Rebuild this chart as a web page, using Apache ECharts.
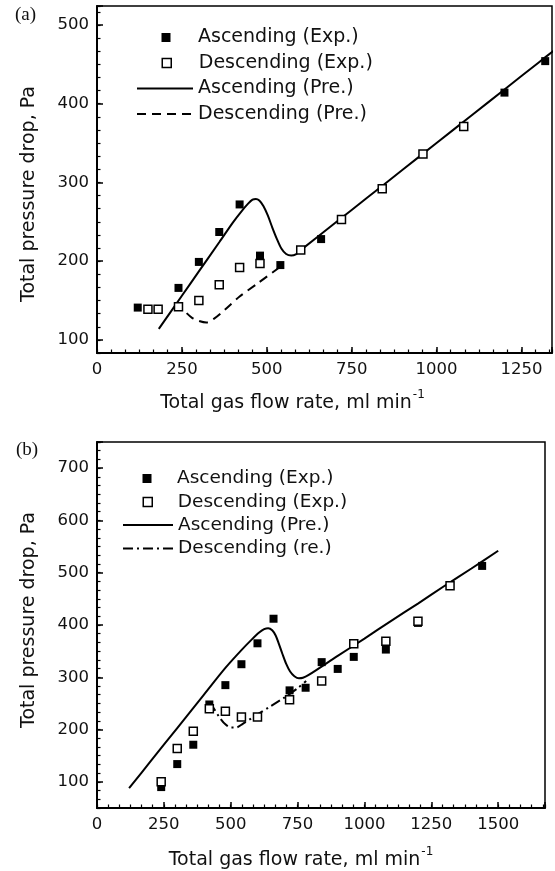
<!DOCTYPE html>
<html><head><meta charset="utf-8">
<script src="https://cdn.jsdelivr.net/npm/echarts@6/dist/echarts.min.js"></script>
<style>html,body{margin:0;padding:0;background:#fff}#c{width:555px;height:871px}</style>
</head><body><div id="c"></div>
<script>
// ---------- Panel (a) data ----------
const aAscExpX = [120, 240, 300, 360, 420, 480, 540, 660, 1200, 1320];
const aAscExpY = [141, 166, 199, 237, 272, 207, 195, 228, 414, 454];
const aDesExpX = [150, 180, 240, 300, 360, 420, 480, 600, 720, 840, 960, 1080];
const aDesExpY = [139, 139, 142, 150, 170, 192, 197, 214, 253, 292, 336, 371];
const aAscPreX = [182, 250, 300, 360, 400, 425, 445, 458, 468, 478, 490, 503, 516, 529, 543, 557, 572, 587, 600, 700, 800, 900, 1000, 1100, 1200, 1300, 1350];
const aAscPreY = [114, 156, 187, 224, 249, 263, 273, 278, 279, 277, 270, 258, 243, 229, 216, 209, 207, 209, 214, 248, 282, 316, 350, 384, 418, 452, 469];
const aDesPreX = [264, 280, 300, 322, 345, 376, 420, 474, 537];
const aDesPreY = [134, 128, 124, 122, 127, 138, 155, 172, 192];
const aXMajor = 250, aYMajor = 100;

// ---------- Panel (b) data ----------
const bAscExpX = [240, 300, 360, 420, 480, 540, 600, 660, 720, 780, 840, 900, 960, 1080, 1200, 1440];
const bAscExpY = [90, 134, 171, 248, 285, 325, 365, 412, 275, 280, 329, 316, 339, 353, 404, 513];
const bDesExpX = [240, 300, 360, 420, 480, 540, 600, 720, 840, 960, 1080, 1200, 1320];
const bDesExpY = [100, 164, 197, 240, 235, 224, 224, 257, 293, 364, 369, 407, 475];
const bAscPreX = [120, 200, 300, 400, 480, 540, 580, 605, 625, 640, 655, 668, 680, 693, 707, 722, 738, 755, 770, 790, 900, 1000, 1100, 1200, 1300, 1400, 1500];
const bAscPreY = [88, 139, 203, 267, 318, 352, 373, 385, 392, 394, 390, 380, 364, 345, 326, 311, 302, 298, 299, 304, 341, 374, 408, 441, 475, 508, 542];
const bDesPreX = [422, 440, 460, 480, 500, 520, 545, 600, 650, 700, 750, 782];
const bDesPreY = [252, 238, 222, 210, 204, 204, 211, 229, 245, 261, 279, 293];
const bXMajor = 250, bYMajor = 100;

const FONT = 'DejaVu Sans';
const MINOR_SPLIT = 6;
function pairs(xs, ys) { return xs.map((x, i) => [x, ys[i]]); }

// major axis (carries data, labels, long ticks) + overlay axis for short minor ticks
function axisPair(kind, grid, min, max, major, nameCfg) {
  const pos = kind === 'x' ? 'bottom' : 'left';
  const majorAxis = {
    type: 'value', gridIndex: grid, position: pos, min: min, max: max, z: 10,
    axisLine: { show: true, onZero: false, lineStyle: { color: '#000', width: 2 } },
    axisTick: { show: true, inside: true, length: 6, lineStyle: { color: '#000', width: 1.5 } },
    axisLabel: { show: true, margin: 8, color: '#111', fontFamily: FONT, fontSize: 16.5,
                 formatter: (v) => (Math.abs(v / major - Math.round(v / major)) < 1e-6 ? String(Math.round(v)) : '') },
    splitLine: { show: false },
    name: nameCfg.name, nameLocation: 'middle', nameGap: nameCfg.gap,
    nameTextStyle: nameCfg.style
  };
  if (min % major === 0) majorAxis.interval = major; else majorAxis.splitNumber = nameCfg.split;
  const minorAxis = {
    type: 'value', gridIndex: grid, position: pos, min: min, max: max, interval: major / MINOR_SPLIT, z: 10,
    axisLine: { show: false, onZero: false },
    axisTick: { show: true, inside: true, length: 3.5, lineStyle: { color: '#000', width: 1.2 } },
    axisLabel: { show: false },
    splitLine: { show: false }
  };
  return [majorAxis, minorAxis];
}

const xName = '{m|Total gas flow rate, ml min}{s|-1}';
const xRich = {
  m: { fontFamily: FONT, fontSize: 19, color: '#111', lineHeight: 24, verticalAlign: 'bottom' },
  s: { fontFamily: FONT, fontSize: 12, color: '#111', lineHeight: 24, verticalAlign: 'top', padding: [0, 0, 12, 1] }
};
const yNameStyle = (pad) => ({ fontFamily: FONT, fontSize: 19, color: '#111', padding: pad });

const xA = axisPair('x', 0, 0, 1340, aXMajor, { name: xName, gap: 36, style: { rich: xRich, padding: [0, 64, 0, 0] } });
const yA = axisPair('y', 0, 500 / 6, 524, aYMajor, { name: 'Total pressure drop, Pa', gap: 58, split: 4, style: yNameStyle([0, 29, 0, 0]) });
const xB = axisPair('x', 1, 0, 1675, bXMajor, { name: xName, gap: 38, style: { rich: xRich, padding: [0, 40, 0, 0] } });
const yB = axisPair('y', 1, 50, 750, bYMajor, { name: 'Total pressure drop, Pa', gap: 58, split: 7, style: yNameStyle([0, 0, 0, 10]) });

const SQ = 8;
function seriesSet(xi, yi, ascExp, desExp, ascPre, desPre, desName, desDash) {
  return [
    { type: 'line', name: 'Ascending (Pre.)', xAxisIndex: xi, yAxisIndex: yi, data: ascPre, symbol: 'none',
      smooth: 0.3, lineStyle: { color: '#000', width: 2 }, itemStyle: { color: '#000' }, z: 2 },
    { type: 'line', name: desName, xAxisIndex: xi, yAxisIndex: yi, data: desPre, symbol: 'none',
      smooth: 0.3, lineStyle: { color: '#000', width: 2, type: desDash }, itemStyle: { color: '#000' }, z: 2 },
    { type: 'scatter', name: 'Ascending (Exp.)', xAxisIndex: xi, yAxisIndex: yi, data: ascExp, symbol: 'rect', symbolSize: SQ,
      itemStyle: { color: '#000', borderColor: '#000', borderWidth: 0, opacity: 1 }, z: 3 },
    { type: 'scatter', name: 'Descending (Exp.)', xAxisIndex: xi, yAxisIndex: yi, data: desExp, symbol: 'rect', symbolSize: SQ,
      itemStyle: { color: '#fff', borderColor: '#000', borderWidth: 1.5, opacity: 1 }, z: 4 }
  ];
}

function legendLine(name, left, cy, iw, fs) {
  return {
    data: [{ name: name }], left: left, top: cy - 11, orient: 'horizontal', padding: 0, itemGap: 0,
    itemWidth: iw, itemHeight: 9, selectedMode: false,
    itemStyle: { opacity: 0 },
    textStyle: { fontFamily: FONT, fontSize: fs, color: '#111', lineHeight: 22 }
  };
}
function legendMarker(name, cx, cy, textX, fs, open) {
  const left = cx - 4.5;
  return {
    data: [{ name: name, icon: 'rect' }], left: left, top: cy - 11, orient: 'horizontal', padding: 0, itemGap: 0,
    itemWidth: 9, itemHeight: 9, selectedMode: false,
    itemStyle: { borderWidth: open ? 1.5 : 0, borderColor: '#000' },
    textStyle: { fontFamily: FONT, fontSize: fs, color: '#111', lineHeight: 22, padding: [0, 0, 0, textX - (left + 14)] }
  };
}

const legends = [
  legendMarker('Ascending (Exp.)', 166, 37.5, 198, 19, false),
  legendMarker('Descending (Exp.)', 166, 63, 198, 19, true),
  legendLine('Ascending (Pre.)', 136, 88.5, 56, 19),
  legendLine('Descending (Pre.)', 136, 114, 56, 19),
  legendMarker('Ascending (Exp.)', 147, 478.5, 177, 18.5, false),
  legendMarker('Descending (Exp.)', 147, 502, 177, 18.5, true),
  legendLine('Ascending (Pre.)', 122, 525, 50, 18.5),
  legendLine('Descending (re.)', 122, 548.5, 50, 18.5)
];

const option = {
  animation: false,
  backgroundColor: '#fff',
  grid: [
    { left: 97, top: 6, width: 456, height: 347, show: true, borderColor: '#000', borderWidth: 1.5, backgroundColor: 'transparent' },
    { left: 97, top: 442, width: 448, height: 366, show: true, borderColor: '#000', borderWidth: 1.5, backgroundColor: 'transparent' }
  ],
  xAxis: [xA[0], xA[1], xB[0], xB[1]],
  yAxis: [yA[0], yA[1], yB[0], yB[1]],
  legend: legends,
  graphic: [
    { type: 'text', left: 15, top: 6, style: { text: '(a)', font: '19px "Liberation Serif"', fill: '#111' } },
    { type: 'text', left: 16, top: 441, style: { text: '(b)', font: '19px "Liberation Serif"', fill: '#111' } }
  ],
  series: [].concat(
    seriesSet(0, 0, pairs(aAscExpX, aAscExpY), pairs(aDesExpX, aDesExpY), pairs(aAscPreX, aAscPreY), pairs(aDesPreX, aDesPreY), 'Descending (Pre.)', [9, 6]),
    seriesSet(2, 2, pairs(bAscExpX, bAscExpY), pairs(bDesExpX, bDesExpY), pairs(bAscPreX, bAscPreY), pairs(bDesPreX, bDesPreY), 'Descending (re.)', [10, 4, 2, 4])
  )
};
const chart = echarts.init(document.getElementById('c'), null, { renderer: 'canvas' });
chart.setOption(option);
</script></body></html>
